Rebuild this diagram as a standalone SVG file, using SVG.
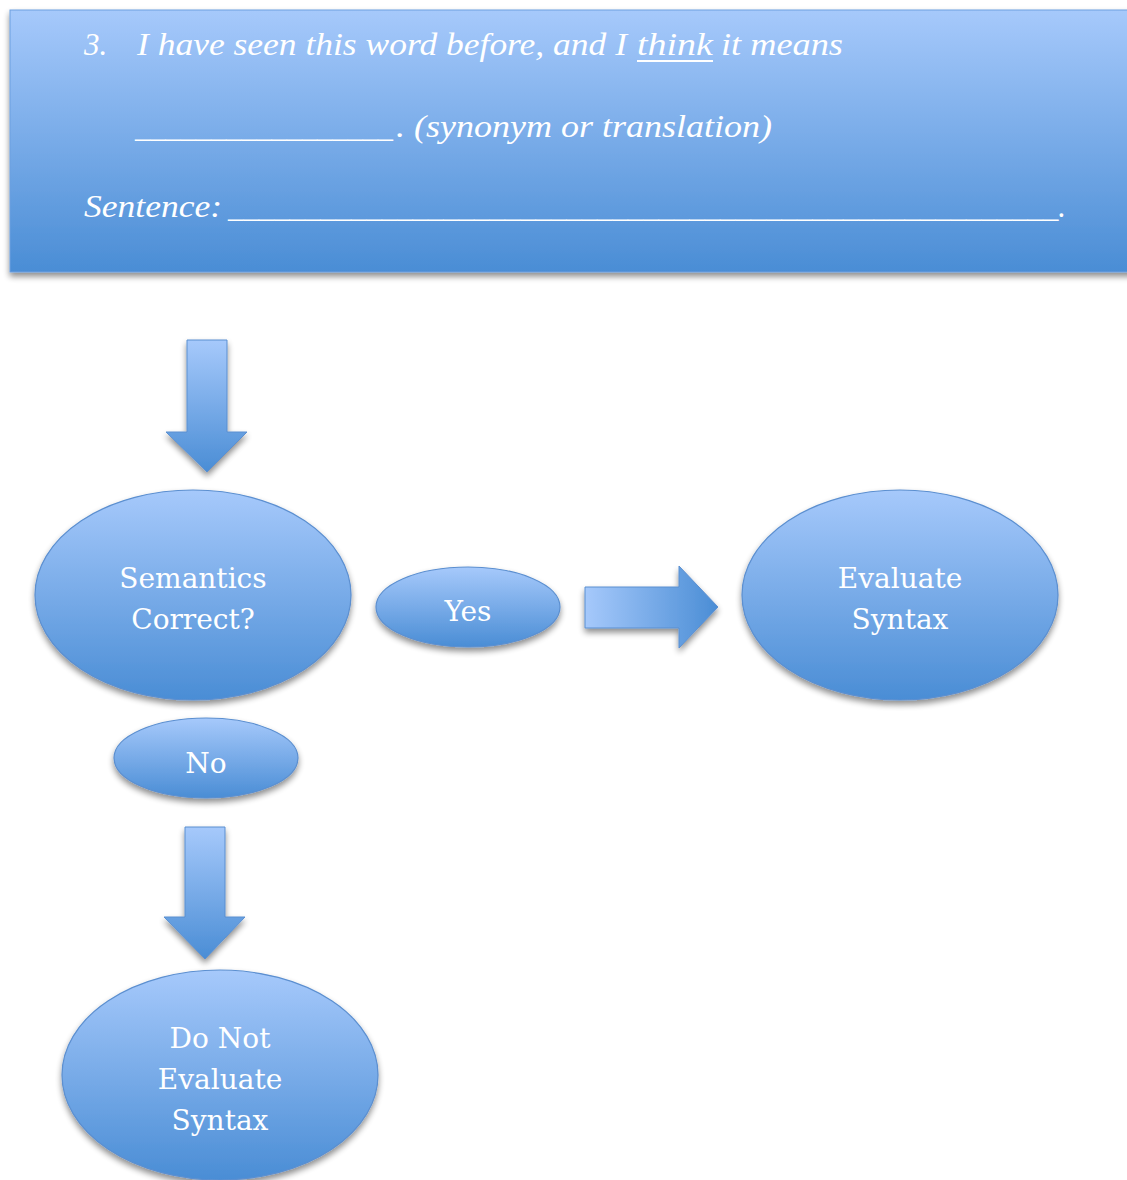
<svg xmlns="http://www.w3.org/2000/svg" width="1127" height="1180" viewBox="0 0 1127 1180">
<defs>
  <linearGradient id="gV" x1="0" y1="0" x2="0" y2="1">
    <stop offset="0" stop-color="#a6c9fb"/>
    <stop offset="1" stop-color="#4a8dd5"/>
  </linearGradient>
  <linearGradient id="gH" x1="0" y1="0" x2="1" y2="0">
    <stop offset="0" stop-color="#a6c9fb"/>
    <stop offset="1" stop-color="#4a8dd5"/>
  </linearGradient>
  <filter id="sh" x="-20%" y="-20%" width="140%" height="150%">
    <feGaussianBlur in="SourceAlpha" stdDeviation="3"/>
    <feOffset dy="4" result="b"/>
    <feComponentTransfer><feFuncA type="linear" slope="0.45"/></feComponentTransfer>
    <feMerge><feMergeNode/><feMergeNode in="SourceGraphic"/></feMerge>
  </filter>
  <style>
    .node{fill:url(#gV);stroke:#5b8fd0;stroke-width:1.2;filter:url(#sh)}
    .arrV{fill:url(#gV);stroke:#5b8fd0;stroke-width:1;filter:url(#sh)}
    .arrH{fill:url(#gH);stroke:#5b8fd0;stroke-width:1;filter:url(#sh)}
    .lbl{font-family:"DejaVu Serif","Liberation Serif",serif;font-size:28px;fill:#ffffff;text-anchor:middle}
    .top{font-family:"Liberation Serif","DejaVu Serif",serif;font-style:italic;font-size:31px;fill:#ffffff}
  </style>
</defs>
<rect width="1127" height="1180" fill="#ffffff"/>

<g id="banner">
  <rect x="10" y="10" width="1130" height="262" fill="url(#gV)" stroke="#6d9fe0" stroke-width="1" filter="url(#sh)"/>
  <text class="top" x="84" y="55">3.</text>
  <text class="top" x="137" y="55" textLength="490" lengthAdjust="spacingAndGlyphs">I have seen this word before, and I</text>
  <text class="top" x="637" y="55" textLength="76" lengthAdjust="spacingAndGlyphs">think</text>
  <line x1="637" y1="61" x2="713" y2="61" stroke="#ffffff" stroke-width="2"/>
  <text class="top" x="721" y="55" textLength="122" lengthAdjust="spacingAndGlyphs">it means</text>
  <text class="top" x="135" y="137" textLength="258" lengthAdjust="spacingAndGlyphs">_________________</text>
  <text class="top" x="396" y="137" textLength="376" lengthAdjust="spacingAndGlyphs">. (synonym or translation)</text>
  <text class="top" x="84" y="217" textLength="138" lengthAdjust="spacingAndGlyphs">Sentence:</text>
  <text class="top" x="228" y="217" textLength="838" lengthAdjust="spacingAndGlyphs">______________________________________________________.</text>
</g>

<g id="connectors">
  <path class="arrV" d="M187,340 H227 V432 H247 L207,472 L166,432 H187 Z"/>
  <path class="arrH" d="M585,587 H679 V566 L718,607 L679,648 V628 H585 Z"/>
  <path class="arrV" d="M185,827 H225 V917 H245 L205,959 L164,917 H185 Z"/>
</g>

<g id="semantics">
  <ellipse class="node" cx="193" cy="595" rx="158" ry="105"/>
  <text class="lbl" x="193" y="588">Semantics</text>
  <text class="lbl" x="193" y="629">Correct?</text>
</g>

<g id="yes">
  <ellipse class="node" cx="468" cy="607" rx="92" ry="40"/>
  <text class="lbl" x="468" y="621">Yes</text>
</g>

<g id="evaluate">
  <ellipse class="node" cx="900" cy="595" rx="158" ry="105"/>
  <text class="lbl" x="900" y="588">Evaluate</text>
  <text class="lbl" x="900" y="629">Syntax</text>
</g>

<g id="no">
  <ellipse class="node" cx="206" cy="758" rx="92" ry="40"/>
  <text class="lbl" x="206" y="773">No</text>
</g>

<g id="donot">
  <ellipse class="node" cx="220" cy="1075" rx="158" ry="105"/>
  <text class="lbl" x="220" y="1048">Do Not</text>
  <text class="lbl" x="220" y="1089">Evaluate</text>
  <text class="lbl" x="220" y="1130">Syntax</text>
</g>
</svg>
